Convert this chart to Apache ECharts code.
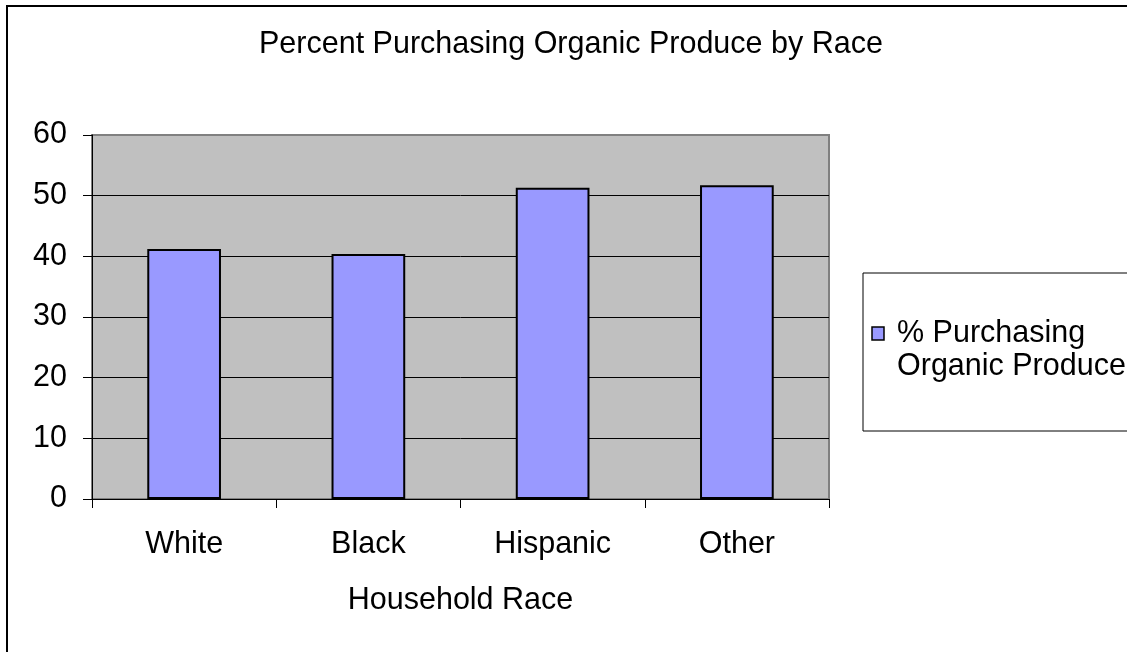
<!DOCTYPE html>
<html>
<head>
<meta charset="utf-8">
<title>Percent Purchasing Organic Produce by Race</title>
<script src="https://cdn.jsdelivr.net/npm/echarts@6/dist/echarts.min.js"></script>
<style>
  html, body { margin: 0; padding: 0; background: #ffffff; }
  #chart { width: 1127px; height: 652px; }
</style>
</head>
<body>
<div id="chart"></div>
<script>
// Chart data
const chartTitle = 'Percent Purchasing Organic Produce by Race';
const categories = ['White', 'Black', 'Hispanic', 'Other'];
const seriesName = '% Purchasing Organic Produce';
const legendLines = ['% Purchasing', 'Organic Produce'];
const purchasingPct = [41.2, 40.4, 51.3, 51.7];
const xAxisName = 'Household Race';
const yTicks = { min: 0, max: 60, step: 10 };

const FONT = "'Liberation Sans', Arial, sans-serif";
const FS = 30.5;

const chart = echarts.init(document.getElementById('chart'), null, { renderer: 'canvas' });

chart.setOption({
  animation: false,
  backgroundColor: '#ffffff',
  title: {
    text: chartTitle,
    left: 259,
    top: 29,
    padding: 0,
    textStyle: { fontFamily: FONT, fontSize: FS, fontWeight: 'normal', color: '#000' }
  },
  grid: {
    left: 92, right: 298, top: 135, bottom: 153,
    show: true,
    backgroundColor: '#C0C0C0',
    borderColor: '#808080',
    borderWidth: 2
  },
  xAxis: {
    type: 'category',
    data: categories,
    name: xAxisName,
    nameLocation: 'middle',
    nameGap: 86,
    nameTextStyle: { fontFamily: FONT, fontSize: FS, color: '#000' },
    axisLine: { lineStyle: { color: '#000', width: 1 } },
    axisTick: { show: true, length: 9, inside: false, alignWithLabel: false, lineStyle: { color: '#000' } },
    axisLabel: { fontFamily: FONT, fontSize: FS, color: '#000', margin: 30, interval: 0 },
    splitLine: { show: false }
  },
  yAxis: {
    type: 'value',
    min: yTicks.min,
    max: yTicks.max,
    interval: yTicks.step,
    axisLine: { show: true, lineStyle: { color: '#000', width: 1 } },
    axisTick: { show: true, length: 9, lineStyle: { color: '#000' } },
    axisLabel: { fontFamily: FONT, fontSize: FS, color: '#000', margin: 25 },
    splitLine: {
      show: true,
      lineStyle: {
        color: ['#000', '#000', '#000', '#000', '#000', '#000', '#808080'],
        width: 1
      }
    }
  },
  series: [{
    name: seriesName,
    type: 'bar',
    data: purchasingPct,
    barWidth: '40%',
    itemStyle: { color: '#9999FF', borderColor: '#000', borderWidth: 2 }
  }],
  graphic: [
    {
      // outer chart frame
      type: 'rect',
      shape: { x: 7, y: 6, width: 1300, height: 800 },
      style: { fill: 'none', stroke: '#000', lineWidth: 2 },
      silent: true,
      z: 100
    },
    {
      // legend box
      type: 'rect',
      shape: { x: 863, y: 273, width: 320, height: 158 },
      style: { fill: '#fff', stroke: '#000', lineWidth: 1 },
      z: 10
    },
    {
      type: 'rect',
      shape: { x: 872, y: 327, width: 12, height: 13 },
      style: { fill: '#9999FF', stroke: '#000', lineWidth: 1.5 },
      z: 11
    },
    {
      type: 'text',
      x: 897,
      y: 350,
      style: {
        text: legendLines.join('\n'),
        font: FS + 'px ' + FONT,
        fill: '#000',
        lineHeight: 33,
        verticalAlign: 'middle',
        align: 'left'
      },
      z: 11
    }
  ]
});
</script>
</body>
</html>
